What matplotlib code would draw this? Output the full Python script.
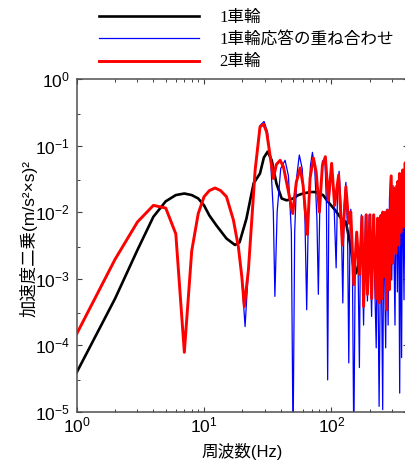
import matplotlib
matplotlib.use('Agg')
import matplotlib.pyplot as plt
from matplotlib.ticker import LogLocator, NullFormatter

plt.rcParams['font.family'] = ['Liberation Sans', 'Noto Sans CJK JP', 'DejaVu Sans']
plt.rcParams['mathtext.default'] = 'regular'

labels = ['1車輪', '1車輪応答の重ね合わせ', '2車輪']

# 1車輪 (black)
f_one = [1, 2, 3, 4, 5, 6, 7, 8, 9, 10, 11, 12.5, 15, 17.5, 19, 21.5, 24.5, 27.5,
         29.5, 31.6, 34, 37, 40.7, 44.6, 50, 55, 60, 68, 75, 86, 95, 107, 120, 130,
         140, 150, 156, 168, 190, 220, 248, 272, 300, 347, 400]
psd_one = [3.9e-5, 5.0e-4, 2.7e-3, 8.5e-3, 1.45e-2, 1.8e-2, 1.9e-2, 1.8e-2, 1.6e-2,
           1.26e-2, 8.9e-3, 6.3e-3, 4.0e-3, 3.2e-3, 3.5e-3, 7.9e-3, 2.7e-2, 3.8e-2,
           6.6e-2, 8.1e-2, 6.0e-2, 2.7e-2, 1.6e-2, 1.5e-2, 1.6e-2, 1.8e-2, 1.9e-2,
           2.0e-2, 2.0e-2, 1.8e-2, 1.4e-2, 1.07e-2, 7.9e-3, 7.1e-3, 3.4e-3, 1.4e-3,
           1.2e-3, 2.0e-3, 2.4e-3, 2.4e-3, 2.5e-3, 3.4e-3, 4.0e-3, 6.0e-3, 8.9e-3]

# 1車輪応答の重ね合わせ (blue)
f_sum = [1, 2, 3, 4, 5, 6, 7, 8, 9, 10, 11, 12.2, 13.5, 15, 17, 18.6, 19.8, 21, 22.3,
         23.7, 25.2, 27.5, 29.6, 31.5, 33.5, 35, 36, 37.5, 40, 43.3, 46, 48.5, 50,
         51.5, 53.5, 56, 59, 62, 64, 66, 68.5, 71, 74, 77, 79, 81, 85, 89, 91.5,
         93.5, 95.5, 100, 104, 109, 112, 115, 119, 123, 126, 130, 134, 137, 140,
         142, 146, 150, 154, 158, 162, 166, 169, 172, 179, 185, 192, 198, 207, 213,
         225, 230, 237, 245, 253, 258, 267, 273, 279, 286, 292, 298, 305, 316, 322,
         330, 337, 344, 350, 356, 362, 372, 378, 385, 392, 400]
psd_sum = [1.48e-4, 1.95e-3, 7.1e-3, 1.26e-2, 1.15e-2, 4.7e-3, 7.8e-5, 2.6e-3, 9.5e-3,
           1.7e-2, 2.1e-2, 2.3e-2, 2.1e-2, 1.7e-2, 7.6e-3, 3.0e-3, 1.0e-3, 1.9e-4,
           1.35e-3, 7.6e-3, 4.3e-2, 0.20, 0.23, 0.16, 5.0e-2, 1.0e-2, 5.4e-4, 1.0e-2,
           4.5e-2, 6.0e-2, 3.5e-2, 5.0e-3, 3.2e-6, 5.0e-3, 3.5e-2, 7.2e-2, 4.5e-2,
           7.9e-3, 3.4e-4, 1.0e-2, 5.0e-2, 7.9e-2, 4.5e-2, 7.9e-3, 5.8e-4, 1.0e-2,
           5.8e-2, 6.3e-2, 1.26e-2, 3.0e-5, 1.26e-2, 5.4e-2, 2.2e-2, 1.45e-3, 2.5e-2,
           4.1e-2, 1.26e-2, 4.3e-4, 1.26e-2, 2.8e-2, 5.0e-3, 5.4e-5, 5.0e-3, 1.1e-2,
           2.5e-3, 3.2e-6, 2.0e-3, 4.8e-3, 1.6e-3, 4.6e-5, 3.2e-3, 9.1e-3, 2.0e-4,
           9.1e-3, 4.6e-4, 9.1e-3, 2.7e-4, 9.1e-3, 9.1e-5, 8.1e-3, 1.2e-5, 8.9e-3,
           1.07e-5, 1.0e-2, 9.1e-5, 1.1e-2, 2.0e-4, 1.6e-2, 3.5e-2, 9.5e-4, 2.5e-2,
           2.0e-4, 2.5e-2, 6.3e-4, 3.5e-2, 1.9e-5, 3.5e-2, 6.5e-5, 4.3e-2, 4.8e-4,
           5.0e-2, 3.2e-4, 5.6e-2, 1.0e-2]

# 2車輪 (red)
f_two = [1, 2, 3, 4, 5, 6, 7, 8, 9, 10, 11, 12.2, 13.5, 15, 17, 18.6, 19.8, 20.7, 22.3,
         23.7, 25.2, 27.5, 29.3, 31, 33, 35, 37, 39.6, 42, 45, 49.7, 53, 56.9, 60,
         64.8, 68, 72.2, 76, 80.5, 85, 89.7, 94.8, 100.5, 106, 114, 122, 130, 137,
         142, 150, 158, 166, 174, 179, 188, 192, 201, 207, 215, 225, 231, 237, 245,
         249, 253, 260, 266, 272, 277, 285, 295, 303, 313, 322, 333, 338, 343, 353,
         363, 370, 380, 390, 400]
psd_two = [1.48e-4, 1.95e-3, 7.1e-3, 1.26e-2, 1.15e-2, 4.7e-3, 7.8e-5, 2.6e-3, 9.5e-3,
           1.7e-2, 2.1e-2, 2.3e-2, 2.1e-2, 1.7e-2, 7.6e-3, 3.0e-3, 1.07e-3, 3.8e-4,
           1.35e-3, 7.6e-3, 4.3e-2, 0.19, 0.21, 0.16, 7.1e-2, 3.2e-2, 5.2e-2, 6.0e-2,
           4.8e-2, 2.5e-2, 9.5e-3, 2.8e-2, 4.6e-2, 2.5e-2, 4.6e-3, 3.2e-2, 6.5e-2,
           4.0e-2, 1.0e-2, 5.0e-2, 6.8e-2, 1.5e-2, 5.4e-2, 1.26e-2, 3.6e-2, 3.2e-3,
           2.4e-2, 6.8e-3, 1.0e-2, 8.1e-4, 5.0e-3, 1.15e-3, 8.5e-3, 3.8e-4, 9.1e-3,
           5.8e-4, 9.1e-3, 5.0e-4, 9.1e-3, 5.0e-4, 8.1e-3, 4.3e-4, 8.9e-3, 5.0e-4,
           1.0e-2, 1.07e-3, 1.0e-2, 3.4e-4, 1.07e-2, 6.8e-4, 3.5e-2, 1.7e-3, 2.3e-2,
           2.4e-3, 2.9e-2, 3.2e-3, 3.8e-2, 5.0e-3, 4.3e-2, 6.0e-3, 5.5e-2, 5.0e-3,
           5.0e-2]

fig = plt.figure(figsize=(4.06, 4.62), dpi=100)
ax = fig.add_axes([0.189, 0.109, 0.816, 0.720])

ax.plot(f_one, psd_one, color='black', linewidth=1.9, label=labels[0])
ax.plot(f_sum, psd_sum, color='#0000FF', linewidth=0.9, label=labels[1])
ax.plot(f_two, psd_two, color='#FF0000', linewidth=2.1, label=labels[2])

ax.set_xscale('log')
ax.set_yscale('log')
ax.set_xlim(1, 400)
ax.set_ylim(1e-5, 1)

ax.yaxis.set_major_locator(LogLocator(base=10, numticks=10))
ax.yaxis.set_minor_locator(LogLocator(base=10, subs=[3.0], numticks=10))
ax.yaxis.set_minor_formatter(NullFormatter())
ax.xaxis.set_minor_locator(LogLocator(base=10, subs=range(2, 10), numticks=10))
ax.xaxis.set_minor_formatter(NullFormatter())

ax.tick_params(which='both', direction='in', top=True, right=True,
               colors='#404040', labelcolor='black', labelsize=12.5)
ax.tick_params(which='major', length=3.5, width=0.8)
ax.tick_params(which='minor', length=2.2, width=0.7)
ax.tick_params(axis='x', pad=3)
ax.tick_params(axis='y', pad=5)
for s in ax.spines.values():
    s.set_color('#505050')
    s.set_linewidth(1.1)

ax.set_xlabel('周波数(Hz)', fontsize=12)
ax.set_ylabel('加速度二乗(m/s²×s)²', fontsize=12.5)
ax.xaxis.set_label_coords(0.5, -0.094)
ax.yaxis.set_label_coords(-0.117, 0.52)

fig.legend(loc='upper left', bbox_to_anchor=(0.244, 0.979), frameon=False,
           prop={'family': ['Liberation Serif', 'Noto Sans CJK JP'], 'size': 12},
           handlelength=6.0, handletextpad=1.2, labelspacing=0.38,
           borderpad=0, borderaxespad=0)

fig.savefig('out.png', dpi=100)
